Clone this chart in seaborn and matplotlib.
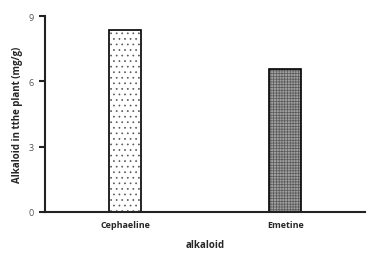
import seaborn as sns
import matplotlib
matplotlib.use('Agg')
import matplotlib.pyplot as plt
import pandas as pd

alkaloids = ['Cephaeline', 'Emetine']
amounts = [8.35, 6.58]
fills = ['white', '#a0a0a0']
hatches = ['...', '++++++']

sns.set_theme(style='white')
plt.rcParams['font.family'] = ['Open Sans', 'DejaVu Sans']
plt.rcParams['hatch.linewidth'] = 0.5

df = pd.DataFrame({'alkaloid': alkaloids, 'amount': amounts})

fig = plt.figure(figsize=(3.73, 2.55), dpi=100)
ax = fig.add_axes([0.121, 0.165, 0.858, 0.768])
sns.barplot(df, x='alkaloid', y='amount', hue='alkaloid', palette=fills,
            width=0.2, edgecolor='black', linewidth=1.2, legend=False, ax=ax)
for bar, h in zip(ax.patches, hatches):
    bar.set_hatch(h)
    bar._hatch_color = (0.35, 0.35, 0.35, 1)

ax.set_xlim(-0.5, 1.5)
ax.set_ylim(0, 9)
ax.set_yticks([0, 3, 6, 9])
for s in ['top', 'right']:
    ax.spines[s].set_visible(False)
for s in ['left', 'bottom']:
    ax.spines[s].set_linewidth(1.5)
    ax.spines[s].set_color('#222222')
ax.tick_params(axis='y', length=4, width=1.5, direction='out', left=True, labelsize=6.5, pad=4, colors='#222222')
ax.tick_params(axis='y', labelcolor='#555555')
ax.tick_params(axis='x', length=0, labelsize=6.5, pad=6)
for t in ax.get_xticklabels():
    t.set_fontweight('bold')
ax.set_xlabel('alkaloid', fontsize=7, fontweight='bold', labelpad=7)
ax.set_ylabel('Alkaloid in tthe plant (mg/g)', fontsize=7, fontweight='bold', labelpad=4)

fig.savefig('out.png', dpi=100)
